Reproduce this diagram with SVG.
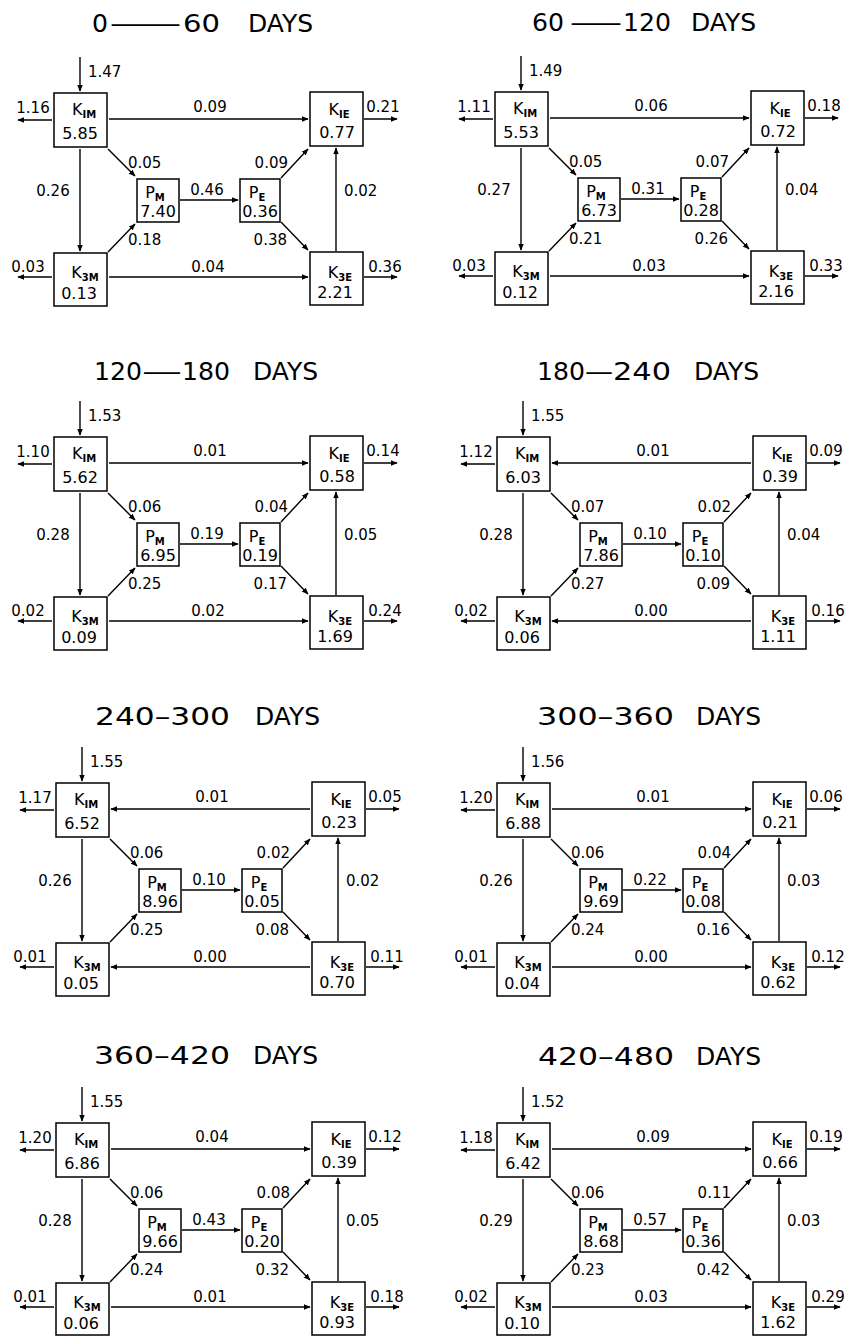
<svg xmlns="http://www.w3.org/2000/svg" width="848" height="1336" viewBox="0 0 848 1336">
<style>
text{font-family:"DejaVu Sans","Liberation Sans",sans-serif;fill:#000}
.bx{fill:#fff;stroke:#000;stroke-width:1.5}
.ln{fill:none;stroke:#000;stroke-width:1.4;marker-end:url(#ah)}
.lb{font-size:15px}
.lbm{font-size:15px;text-anchor:middle}
.lbe{font-size:15px;text-anchor:end}
.nm{font-size:16px;text-anchor:middle}
.sb{font-size:10px;font-weight:bold}
.vl{font-size:16px;text-anchor:middle}
.tt{font-size:25px}
</style>
<defs>
<marker id="ah" viewBox="0 0 10 10" refX="9" refY="5" markerWidth="7" markerHeight="7" markerUnits="userSpaceOnUse" orient="auto"><path d="M0,1 L10,5 L0,9 z" fill="#000"/></marker>
</defs>
<rect width="848" height="1336" fill="#fff"/>
<g id="titles">
<text class="tt" x="92" y="32" textLength="16" lengthAdjust="spacingAndGlyphs">0</text><text class="tt" x="108" y="32" textLength="75" lengthAdjust="spacingAndGlyphs">—</text><text class="tt" x="183" y="32" textLength="37" lengthAdjust="spacingAndGlyphs">60</text><text class="tt" x="248" y="32">DAYS</text>
<text class="tt" x="532" y="31" textLength="32" lengthAdjust="spacingAndGlyphs">60</text><text class="tt" x="569" y="31" textLength="54" lengthAdjust="spacingAndGlyphs">—</text><text class="tt" x="623" y="31" textLength="48" lengthAdjust="spacingAndGlyphs">120</text><text class="tt" x="691" y="31">DAYS</text>
<text class="tt" x="94" y="380" textLength="48" lengthAdjust="spacingAndGlyphs">120</text><text class="tt" x="142" y="380" textLength="40" lengthAdjust="spacingAndGlyphs">—</text><text class="tt" x="182" y="380" textLength="48" lengthAdjust="spacingAndGlyphs">180</text><text class="tt" x="253" y="380">DAYS</text>
<text class="tt" x="537" y="380" textLength="48" lengthAdjust="spacingAndGlyphs">180</text><text class="tt" x="585" y="380" textLength="28" lengthAdjust="spacingAndGlyphs">—</text><text class="tt" x="613" y="380" textLength="58" lengthAdjust="spacingAndGlyphs">240</text><text class="tt" x="694" y="380">DAYS</text>
<text class="tt" x="95" y="725" textLength="135" lengthAdjust="spacingAndGlyphs">240–300</text><text class="tt" x="255" y="725">DAYS</text>
<text class="tt" x="537" y="725" textLength="137" lengthAdjust="spacingAndGlyphs">300–360</text><text class="tt" x="696" y="725">DAYS</text>
<text class="tt" x="94" y="1064" textLength="136" lengthAdjust="spacingAndGlyphs">360–420</text><text class="tt" x="253" y="1064">DAYS</text>
<text class="tt" x="538" y="1065" textLength="136" lengthAdjust="spacingAndGlyphs">420–480</text><text class="tt" x="696" y="1065">DAYS</text>
</g>

<g id="panel1" transform="translate(0,0)">
<g id="p1-connectors">
<path class="ln" d="M80,57V91"/><path class="ln" d="M52,120H18"/><path class="ln" d="M109,119H308"/><path class="ln" d="M364,119H397"/>
<path class="ln" d="M108,149L135,176"/><path class="ln" d="M80,149V251"/><path class="ln" d="M108,252L135,224"/><path class="ln" d="M180,200H238"/>
<path class="ln" d="M281,178L308,149"/><path class="ln" d="M281,222L308,250"/><path class="ln" d="M336,251V148"/><path class="ln" d="M109,277H308"/>
<path class="ln" d="M52,277H18"/><path class="ln" d="M364,277H397"/>
<text class="lb" x="88" y="77">1.47</text><text class="lbm" x="33" y="113">1.16</text><text class="lbm" x="210" y="112">0.09</text><text class="lbm" x="383" y="112">0.21</text>
<text class="lb" x="128" y="168">0.05</text><text class="lbm" x="53" y="196">0.26</text><text class="lb" x="128" y="245">0.18</text><text class="lbm" x="207" y="195">0.46</text>
<text class="lbe" x="288" y="168">0.09</text><text class="lbe" x="287" y="245">0.38</text><text class="lb" x="344" y="196">0.02</text><text class="lbm" x="208" y="272">0.04</text>
<text class="lbm" x="28" y="272">0.03</text><text class="lbm" x="385" y="272">0.36</text>
</g>
<g id="p1-k1m"><rect class="bx" x="54" y="93" width="53" height="54"/><text class="nm" x="84" y="115">K<tspan class="sb" dy="3">IM</tspan></text><text class="vl" x="80" y="139">5.85</text></g>
<g id="p1-k1e"><rect class="bx" x="310" y="92" width="53" height="54"/><text class="nm" x="339" y="115">K<tspan class="sb" dy="3">IE</tspan></text><text class="vl" x="337" y="138">0.77</text></g>
<g id="p1-pm"><rect class="bx" x="137" y="179" width="42" height="43"/><text class="nm" x="155" y="198">P<tspan class="sb" dy="3">M</tspan></text><text class="vl" x="158" y="217">7.40</text></g>
<g id="p1-pe"><rect class="bx" x="240" y="179" width="40" height="43"/><text class="nm" x="257" y="198">P<tspan class="sb" dy="3">E</tspan></text><text class="vl" x="260" y="217">0.36</text></g>
<g id="p1-k3m"><rect class="bx" x="54" y="253" width="53" height="53"/><text class="nm" x="85" y="278">K<tspan class="sb" dy="3">3M</tspan></text><text class="vl" x="79" y="299">0.13</text></g>
<g id="p1-k3e"><rect class="bx" x="310" y="252" width="53" height="53"/><text class="nm" x="340" y="278">K<tspan class="sb" dy="3">3E</tspan></text><text class="vl" x="335" y="298">2.21</text></g>
</g>

<g id="panel2" transform="translate(441,-1)">
<g id="p2-connectors">
<path class="ln" d="M80,57V91"/><path class="ln" d="M52,120H18"/><path class="ln" d="M109,119H308"/><path class="ln" d="M364,119H397"/>
<path class="ln" d="M108,149L135,176"/><path class="ln" d="M80,149V251"/><path class="ln" d="M108,252L135,224"/><path class="ln" d="M180,200H238"/>
<path class="ln" d="M281,178L308,149"/><path class="ln" d="M281,222L308,250"/><path class="ln" d="M336,251V148"/><path class="ln" d="M109,277H308"/>
<path class="ln" d="M52,277H18"/><path class="ln" d="M364,277H397"/>
<text class="lb" x="88" y="77">1.49</text><text class="lbm" x="33" y="113">1.11</text><text class="lbm" x="210" y="112">0.06</text><text class="lbm" x="383" y="112">0.18</text>
<text class="lb" x="128" y="168">0.05</text><text class="lbm" x="53" y="196">0.27</text><text class="lb" x="128" y="245">0.21</text><text class="lbm" x="207" y="195">0.31</text>
<text class="lbe" x="288" y="168">0.07</text><text class="lbe" x="287" y="245">0.26</text><text class="lb" x="344" y="196">0.04</text><text class="lbm" x="208" y="272">0.03</text>
<text class="lbm" x="28" y="272">0.03</text><text class="lbm" x="385" y="272">0.33</text>
</g>
<g id="p2-k1m"><rect class="bx" x="54" y="93" width="53" height="54"/><text class="nm" x="84" y="115">K<tspan class="sb" dy="3">IM</tspan></text><text class="vl" x="80" y="139">5.53</text></g>
<g id="p2-k1e"><rect class="bx" x="310" y="92" width="53" height="54"/><text class="nm" x="339" y="115">K<tspan class="sb" dy="3">IE</tspan></text><text class="vl" x="337" y="138">0.72</text></g>
<g id="p2-pm"><rect class="bx" x="137" y="179" width="42" height="43"/><text class="nm" x="155" y="198">P<tspan class="sb" dy="3">M</tspan></text><text class="vl" x="158" y="217">6.73</text></g>
<g id="p2-pe"><rect class="bx" x="240" y="179" width="40" height="43"/><text class="nm" x="257" y="198">P<tspan class="sb" dy="3">E</tspan></text><text class="vl" x="260" y="217">0.28</text></g>
<g id="p2-k3m"><rect class="bx" x="54" y="253" width="53" height="53"/><text class="nm" x="85" y="278">K<tspan class="sb" dy="3">3M</tspan></text><text class="vl" x="79" y="299">0.12</text></g>
<g id="p2-k3e"><rect class="bx" x="310" y="252" width="53" height="53"/><text class="nm" x="340" y="278">K<tspan class="sb" dy="3">3E</tspan></text><text class="vl" x="335" y="298">2.16</text></g>
</g>

<g id="panel3" transform="translate(0,344)">
<g id="p3-connectors">
<path class="ln" d="M80,57V91"/><path class="ln" d="M52,120H18"/><path class="ln" d="M109,119H308"/><path class="ln" d="M364,119H397"/>
<path class="ln" d="M108,149L135,176"/><path class="ln" d="M80,149V251"/><path class="ln" d="M108,252L135,224"/><path class="ln" d="M180,200H238"/>
<path class="ln" d="M281,178L308,149"/><path class="ln" d="M281,222L308,250"/><path class="ln" d="M336,251V148"/><path class="ln" d="M109,277H308"/>
<path class="ln" d="M52,277H18"/><path class="ln" d="M364,277H397"/>
<text class="lb" x="88" y="77">1.53</text><text class="lbm" x="33" y="113">1.10</text><text class="lbm" x="210" y="112">0.01</text><text class="lbm" x="383" y="112">0.14</text>
<text class="lb" x="128" y="168">0.06</text><text class="lbm" x="53" y="196">0.28</text><text class="lb" x="128" y="245">0.25</text><text class="lbm" x="207" y="195">0.19</text>
<text class="lbe" x="288" y="168">0.04</text><text class="lbe" x="287" y="245">0.17</text><text class="lb" x="344" y="196">0.05</text><text class="lbm" x="208" y="272">0.02</text>
<text class="lbm" x="28" y="272">0.02</text><text class="lbm" x="385" y="272">0.24</text>
</g>
<g id="p3-k1m"><rect class="bx" x="54" y="93" width="53" height="54"/><text class="nm" x="84" y="115">K<tspan class="sb" dy="3">IM</tspan></text><text class="vl" x="80" y="139">5.62</text></g>
<g id="p3-k1e"><rect class="bx" x="310" y="92" width="53" height="54"/><text class="nm" x="339" y="115">K<tspan class="sb" dy="3">IE</tspan></text><text class="vl" x="337" y="138">0.58</text></g>
<g id="p3-pm"><rect class="bx" x="137" y="179" width="42" height="43"/><text class="nm" x="155" y="198">P<tspan class="sb" dy="3">M</tspan></text><text class="vl" x="158" y="217">6.95</text></g>
<g id="p3-pe"><rect class="bx" x="240" y="179" width="40" height="43"/><text class="nm" x="257" y="198">P<tspan class="sb" dy="3">E</tspan></text><text class="vl" x="260" y="217">0.19</text></g>
<g id="p3-k3m"><rect class="bx" x="54" y="253" width="53" height="53"/><text class="nm" x="85" y="278">K<tspan class="sb" dy="3">3M</tspan></text><text class="vl" x="79" y="299">0.09</text></g>
<g id="p3-k3e"><rect class="bx" x="310" y="252" width="53" height="53"/><text class="nm" x="340" y="278">K<tspan class="sb" dy="3">3E</tspan></text><text class="vl" x="335" y="298">1.69</text></g>
</g>

<g id="panel4" transform="translate(443,344)">
<g id="p4-connectors">
<path class="ln" d="M80,57V91"/><path class="ln" d="M52,120H18"/><path class="ln" d="M308,119H109"/><path class="ln" d="M364,119H397"/>
<path class="ln" d="M108,149L135,176"/><path class="ln" d="M80,149V251"/><path class="ln" d="M108,252L135,224"/><path class="ln" d="M180,200H238"/>
<path class="ln" d="M281,178L308,149"/><path class="ln" d="M281,222L308,250"/><path class="ln" d="M336,251V148"/><path class="ln" d="M308,277H109"/>
<path class="ln" d="M52,277H18"/><path class="ln" d="M364,277H397"/>
<text class="lb" x="88" y="77">1.55</text><text class="lbm" x="33" y="113">1.12</text><text class="lbm" x="210" y="112">0.01</text><text class="lbm" x="383" y="112">0.09</text>
<text class="lb" x="128" y="168">0.07</text><text class="lbm" x="53" y="196">0.28</text><text class="lb" x="128" y="245">0.27</text><text class="lbm" x="207" y="195">0.10</text>
<text class="lbe" x="288" y="168">0.02</text><text class="lbe" x="287" y="245">0.09</text><text class="lb" x="344" y="196">0.04</text><text class="lbm" x="208" y="272">0.00</text>
<text class="lbm" x="28" y="272">0.02</text><text class="lbm" x="385" y="272">0.16</text>
</g>
<g id="p4-k1m"><rect class="bx" x="54" y="93" width="53" height="54"/><text class="nm" x="84" y="115">K<tspan class="sb" dy="3">IM</tspan></text><text class="vl" x="80" y="139">6.03</text></g>
<g id="p4-k1e"><rect class="bx" x="310" y="92" width="53" height="54"/><text class="nm" x="339" y="115">K<tspan class="sb" dy="3">IE</tspan></text><text class="vl" x="337" y="138">0.39</text></g>
<g id="p4-pm"><rect class="bx" x="137" y="179" width="42" height="43"/><text class="nm" x="155" y="198">P<tspan class="sb" dy="3">M</tspan></text><text class="vl" x="158" y="217">7.86</text></g>
<g id="p4-pe"><rect class="bx" x="240" y="179" width="40" height="43"/><text class="nm" x="257" y="198">P<tspan class="sb" dy="3">E</tspan></text><text class="vl" x="260" y="217">0.10</text></g>
<g id="p4-k3m"><rect class="bx" x="54" y="253" width="53" height="53"/><text class="nm" x="85" y="278">K<tspan class="sb" dy="3">3M</tspan></text><text class="vl" x="79" y="299">0.06</text></g>
<g id="p4-k3e"><rect class="bx" x="310" y="252" width="53" height="53"/><text class="nm" x="340" y="278">K<tspan class="sb" dy="3">3E</tspan></text><text class="vl" x="335" y="298">1.11</text></g>
</g>

<g id="panel5" transform="translate(2,690)">
<g id="p5-connectors">
<path class="ln" d="M80,57V91"/><path class="ln" d="M52,120H18"/><path class="ln" d="M308,119H109"/><path class="ln" d="M364,119H397"/>
<path class="ln" d="M108,149L135,176"/><path class="ln" d="M80,149V251"/><path class="ln" d="M108,252L135,224"/><path class="ln" d="M180,200H238"/>
<path class="ln" d="M281,178L308,149"/><path class="ln" d="M281,222L308,250"/><path class="ln" d="M336,251V148"/><path class="ln" d="M308,277H109"/>
<path class="ln" d="M52,277H18"/><path class="ln" d="M364,277H397"/>
<text class="lb" x="88" y="77">1.55</text><text class="lbm" x="33" y="113">1.17</text><text class="lbm" x="210" y="112">0.01</text><text class="lbm" x="383" y="112">0.05</text>
<text class="lb" x="128" y="168">0.06</text><text class="lbm" x="53" y="196">0.26</text><text class="lb" x="128" y="245">0.25</text><text class="lbm" x="207" y="195">0.10</text>
<text class="lbe" x="288" y="168">0.02</text><text class="lbe" x="287" y="245">0.08</text><text class="lb" x="344" y="196">0.02</text><text class="lbm" x="208" y="272">0.00</text>
<text class="lbm" x="28" y="272">0.01</text><text class="lbm" x="385" y="272">0.11</text>
</g>
<g id="p5-k1m"><rect class="bx" x="54" y="93" width="53" height="54"/><text class="nm" x="84" y="115">K<tspan class="sb" dy="3">IM</tspan></text><text class="vl" x="80" y="139">6.52</text></g>
<g id="p5-k1e"><rect class="bx" x="310" y="92" width="53" height="54"/><text class="nm" x="339" y="115">K<tspan class="sb" dy="3">IE</tspan></text><text class="vl" x="337" y="138">0.23</text></g>
<g id="p5-pm"><rect class="bx" x="137" y="179" width="42" height="43"/><text class="nm" x="155" y="198">P<tspan class="sb" dy="3">M</tspan></text><text class="vl" x="158" y="217">8.96</text></g>
<g id="p5-pe"><rect class="bx" x="240" y="179" width="40" height="43"/><text class="nm" x="257" y="198">P<tspan class="sb" dy="3">E</tspan></text><text class="vl" x="260" y="217">0.05</text></g>
<g id="p5-k3m"><rect class="bx" x="54" y="253" width="53" height="53"/><text class="nm" x="85" y="278">K<tspan class="sb" dy="3">3M</tspan></text><text class="vl" x="79" y="299">0.05</text></g>
<g id="p5-k3e"><rect class="bx" x="310" y="252" width="53" height="53"/><text class="nm" x="340" y="278">K<tspan class="sb" dy="3">3E</tspan></text><text class="vl" x="335" y="298">0.70</text></g>
</g>

<g id="panel6" transform="translate(443,690)">
<g id="p6-connectors">
<path class="ln" d="M80,57V91"/><path class="ln" d="M52,120H18"/><path class="ln" d="M109,119H308"/><path class="ln" d="M364,119H397"/>
<path class="ln" d="M108,149L135,176"/><path class="ln" d="M80,149V251"/><path class="ln" d="M108,252L135,224"/><path class="ln" d="M180,200H238"/>
<path class="ln" d="M281,178L308,149"/><path class="ln" d="M281,222L308,250"/><path class="ln" d="M336,251V148"/><path class="ln" d="M109,277H308"/>
<path class="ln" d="M52,277H18"/><path class="ln" d="M364,277H397"/>
<text class="lb" x="88" y="77">1.56</text><text class="lbm" x="33" y="113">1.20</text><text class="lbm" x="210" y="112">0.01</text><text class="lbm" x="383" y="112">0.06</text>
<text class="lb" x="128" y="168">0.06</text><text class="lbm" x="53" y="196">0.26</text><text class="lb" x="128" y="245">0.24</text><text class="lbm" x="207" y="195">0.22</text>
<text class="lbe" x="288" y="168">0.04</text><text class="lbe" x="287" y="245">0.16</text><text class="lb" x="344" y="196">0.03</text><text class="lbm" x="208" y="272">0.00</text>
<text class="lbm" x="28" y="272">0.01</text><text class="lbm" x="385" y="272">0.12</text>
</g>
<g id="p6-k1m"><rect class="bx" x="54" y="93" width="53" height="54"/><text class="nm" x="84" y="115">K<tspan class="sb" dy="3">IM</tspan></text><text class="vl" x="80" y="139">6.88</text></g>
<g id="p6-k1e"><rect class="bx" x="310" y="92" width="53" height="54"/><text class="nm" x="339" y="115">K<tspan class="sb" dy="3">IE</tspan></text><text class="vl" x="337" y="138">0.21</text></g>
<g id="p6-pm"><rect class="bx" x="137" y="179" width="42" height="43"/><text class="nm" x="155" y="198">P<tspan class="sb" dy="3">M</tspan></text><text class="vl" x="158" y="217">9.69</text></g>
<g id="p6-pe"><rect class="bx" x="240" y="179" width="40" height="43"/><text class="nm" x="257" y="198">P<tspan class="sb" dy="3">E</tspan></text><text class="vl" x="260" y="217">0.08</text></g>
<g id="p6-k3m"><rect class="bx" x="54" y="253" width="53" height="53"/><text class="nm" x="85" y="278">K<tspan class="sb" dy="3">3M</tspan></text><text class="vl" x="79" y="299">0.04</text></g>
<g id="p6-k3e"><rect class="bx" x="310" y="252" width="53" height="53"/><text class="nm" x="340" y="278">K<tspan class="sb" dy="3">3E</tspan></text><text class="vl" x="335" y="298">0.62</text></g>
</g>

<g id="panel7" transform="translate(2,1030)">
<g id="p7-connectors">
<path class="ln" d="M80,57V91"/><path class="ln" d="M52,120H18"/><path class="ln" d="M109,119H308"/><path class="ln" d="M364,119H397"/>
<path class="ln" d="M108,149L135,176"/><path class="ln" d="M80,149V251"/><path class="ln" d="M108,252L135,224"/><path class="ln" d="M180,200H238"/>
<path class="ln" d="M281,178L308,149"/><path class="ln" d="M281,222L308,250"/><path class="ln" d="M336,251V148"/><path class="ln" d="M109,277H308"/>
<path class="ln" d="M52,277H18"/><path class="ln" d="M364,277H397"/>
<text class="lb" x="88" y="77">1.55</text><text class="lbm" x="33" y="113">1.20</text><text class="lbm" x="210" y="112">0.04</text><text class="lbm" x="383" y="112">0.12</text>
<text class="lb" x="128" y="168">0.06</text><text class="lbm" x="53" y="196">0.28</text><text class="lb" x="128" y="245">0.24</text><text class="lbm" x="207" y="195">0.43</text>
<text class="lbe" x="288" y="168">0.08</text><text class="lbe" x="287" y="245">0.32</text><text class="lb" x="344" y="196">0.05</text><text class="lbm" x="208" y="272">0.01</text>
<text class="lbm" x="28" y="272">0.01</text><text class="lbm" x="385" y="272">0.18</text>
</g>
<g id="p7-k1m"><rect class="bx" x="54" y="93" width="53" height="54"/><text class="nm" x="84" y="115">K<tspan class="sb" dy="3">IM</tspan></text><text class="vl" x="80" y="139">6.86</text></g>
<g id="p7-k1e"><rect class="bx" x="310" y="92" width="53" height="54"/><text class="nm" x="339" y="115">K<tspan class="sb" dy="3">IE</tspan></text><text class="vl" x="337" y="138">0.39</text></g>
<g id="p7-pm"><rect class="bx" x="137" y="179" width="42" height="43"/><text class="nm" x="155" y="198">P<tspan class="sb" dy="3">M</tspan></text><text class="vl" x="158" y="217">9.66</text></g>
<g id="p7-pe"><rect class="bx" x="240" y="179" width="40" height="43"/><text class="nm" x="257" y="198">P<tspan class="sb" dy="3">E</tspan></text><text class="vl" x="260" y="217">0.20</text></g>
<g id="p7-k3m"><rect class="bx" x="54" y="253" width="53" height="52"/><text class="nm" x="85" y="278">K<tspan class="sb" dy="3">3M</tspan></text><text class="vl" x="79" y="299">0.06</text></g>
<g id="p7-k3e"><rect class="bx" x="310" y="252" width="53" height="53"/><text class="nm" x="340" y="278">K<tspan class="sb" dy="3">3E</tspan></text><text class="vl" x="335" y="298">0.93</text></g>
</g>

<g id="panel8" transform="translate(443,1030)">
<g id="p8-connectors">
<path class="ln" d="M80,57V91"/><path class="ln" d="M52,120H18"/><path class="ln" d="M109,119H308"/><path class="ln" d="M364,119H397"/>
<path class="ln" d="M108,149L135,176"/><path class="ln" d="M80,149V251"/><path class="ln" d="M108,252L135,224"/><path class="ln" d="M180,200H238"/>
<path class="ln" d="M281,178L308,149"/><path class="ln" d="M281,222L308,250"/><path class="ln" d="M336,251V148"/><path class="ln" d="M109,277H308"/>
<path class="ln" d="M52,277H18"/><path class="ln" d="M364,277H397"/>
<text class="lb" x="88" y="77">1.52</text><text class="lbm" x="33" y="113">1.18</text><text class="lbm" x="210" y="112">0.09</text><text class="lbm" x="383" y="112">0.19</text>
<text class="lb" x="128" y="168">0.06</text><text class="lbm" x="53" y="196">0.29</text><text class="lb" x="128" y="245">0.23</text><text class="lbm" x="207" y="195">0.57</text>
<text class="lbe" x="288" y="168">0.11</text><text class="lbe" x="287" y="245">0.42</text><text class="lb" x="344" y="196">0.03</text><text class="lbm" x="208" y="272">0.03</text>
<text class="lbm" x="28" y="272">0.02</text><text class="lbm" x="385" y="272">0.29</text>
</g>
<g id="p8-k1m"><rect class="bx" x="54" y="93" width="53" height="54"/><text class="nm" x="84" y="115">K<tspan class="sb" dy="3">IM</tspan></text><text class="vl" x="80" y="139">6.42</text></g>
<g id="p8-k1e"><rect class="bx" x="310" y="92" width="53" height="54"/><text class="nm" x="339" y="115">K<tspan class="sb" dy="3">IE</tspan></text><text class="vl" x="337" y="138">0.66</text></g>
<g id="p8-pm"><rect class="bx" x="137" y="179" width="42" height="43"/><text class="nm" x="155" y="198">P<tspan class="sb" dy="3">M</tspan></text><text class="vl" x="158" y="217">8.68</text></g>
<g id="p8-pe"><rect class="bx" x="240" y="179" width="40" height="43"/><text class="nm" x="257" y="198">P<tspan class="sb" dy="3">E</tspan></text><text class="vl" x="260" y="217">0.36</text></g>
<g id="p8-k3m"><rect class="bx" x="54" y="253" width="53" height="52"/><text class="nm" x="85" y="278">K<tspan class="sb" dy="3">3M</tspan></text><text class="vl" x="79" y="299">0.10</text></g>
<g id="p8-k3e"><rect class="bx" x="310" y="252" width="53" height="53"/><text class="nm" x="340" y="278">K<tspan class="sb" dy="3">3E</tspan></text><text class="vl" x="335" y="298">1.62</text></g>
</g>
</svg>
